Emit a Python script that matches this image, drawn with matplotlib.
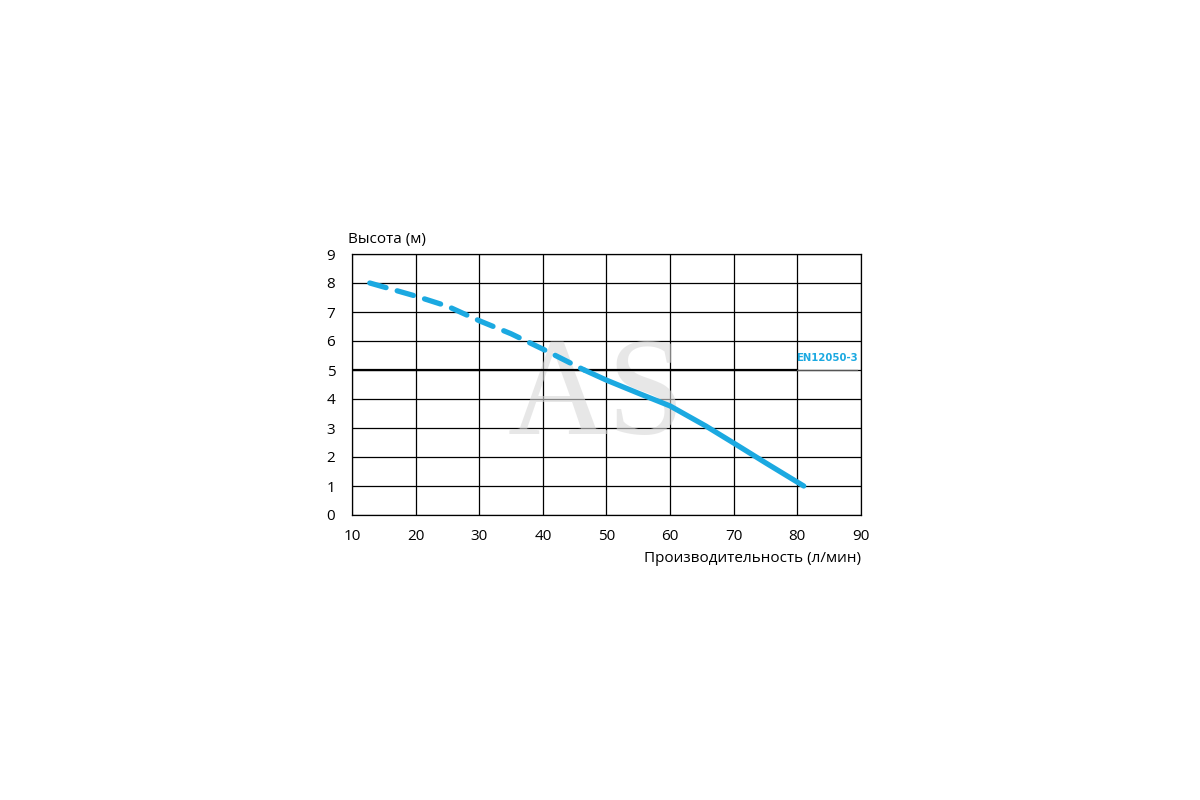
import numpy as np
import matplotlib
matplotlib.use('Agg')
from matplotlib import pyplot as plt

# pump curve (flow l/min, head m)
flow_dash = [12.8, 20, 25, 30, 35, 40, 46.5]
head_dash = [8.0, 7.55, 7.2, 6.7, 6.25, 5.72, 5.0]
flow_solid = [46.5, 50, 55, 60, 65.6, 70, 75, 81]
head_solid = [5.0, 4.65, 4.2, 3.76, 3.07, 2.48, 1.8, 1.0]
norm_head = 5
norm_label = 'EN12050-3'
xticks = [10, 20, 30, 40, 50, 60, 70, 80, 90]
yticks = [0, 1, 2, 3, 4, 5, 6, 7, 8, 9]

plt.rcParams['font.family'] = ['Open Sans', 'DejaVu Sans']
blue = '#1ba9e1'

fig = plt.figure(figsize=(12, 8), dpi=100)
ax = fig.add_axes([0.2933, 0.35625, 0.4242, 0.32625])
ax.set_xlim(10, 90)
ax.set_ylim(0, 9)
ax.set_xticks(xticks)
ax.set_yticks(yticks)
ax.grid(True, color='black', linewidth=0.9)
ax.tick_params(axis='y', length=0, labelsize=11, pad=12)
ax.tick_params(axis='x', length=0, labelsize=11, pad=10)
for s in ax.spines.values():
    s.set_linewidth(0.9)

ax.plot([10, 80], [norm_head, norm_head], color='black', lw=1.6, zorder=3)
ax.plot([80, 89.4], [norm_head, norm_head], color='#555555', lw=0.9, zorder=3, clip_on=False)
ax.text(84.7, norm_head + 0.25, norm_label, color=blue, fontsize=7.3, fontweight='bold',
        family=['DejaVu Sans Condensed', 'DejaVu Sans'], va='bottom', ha='center')

ax.plot(flow_dash, head_dash, color=blue, lw=3.8, ls=(0, (3.2, 2.2)), solid_capstyle='round',
        dash_capstyle='round', zorder=4)
ax.plot(flow_solid, head_solid, color=blue, lw=3.8, solid_capstyle='round', zorder=4)

# watermark
ax.text(48.5, 3.95, 'AS', fontsize=100, color='#d8d8d8', alpha=0.6, ha='center', va='center',
        family=['Liberation Serif', 'DejaVu Serif'], zorder=2)

fig.text(348 / 1200, 1 - 240 / 800, 'Высота (м)', fontsize=11, va='center', ha='left')
fig.text(861 / 1200, 1 - 558 / 800, 'Производительность (л/мин)', fontsize=11, va='center', ha='right')

fig.savefig('out.png', dpi=100, facecolor='white')
